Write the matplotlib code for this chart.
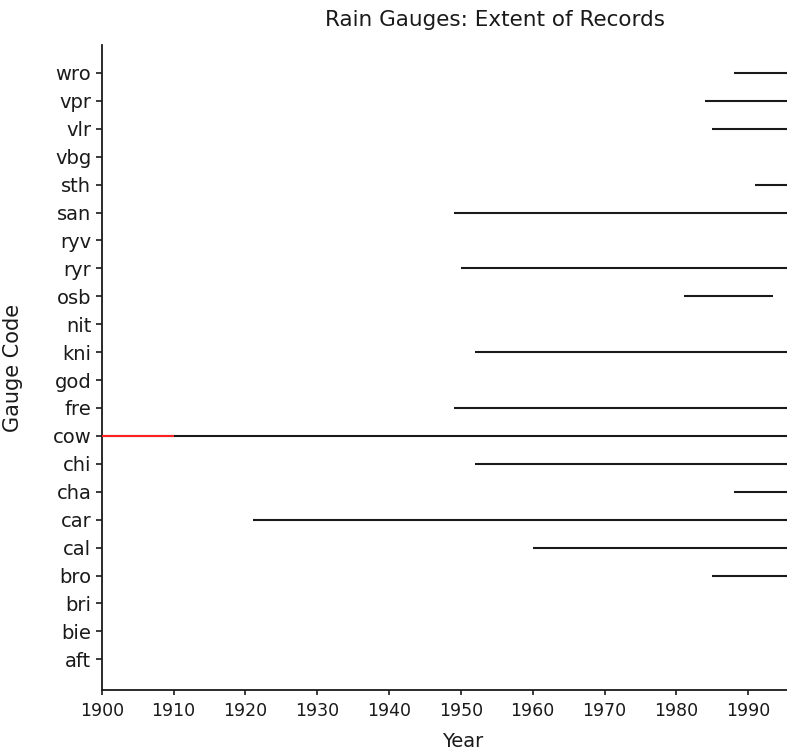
import matplotlib
matplotlib.use("Agg")
import matplotlib.pyplot as plt

# gauge codes, bottom -> top
gauges = ["aft", "bie", "bri", "bro", "cal", "car", "cha", "chi", "cow", "fre",
          "god", "kni", "nit", "osb", "ryr", "ryv", "san", "sth", "vbg", "vlr",
          "vpr", "wro"]

# record extents (start, end); gauges not listed have no record drawn
starts = {"bro": 1985, "cal": 1960, "car": 1921, "cha": 1988, "chi": 1952,
          "cow": 1900, "fre": 1949, "kni": 1952, "osb": 1981, "ryr": 1950,
          "san": 1949, "sth": 1991, "vlr": 1985, "vpr": 1984, "wro": 1988}
ends = {"bro": 1996, "cal": 1996, "car": 1996, "cha": 1996, "chi": 1996,
        "cow": 1996, "fre": 1996, "kni": 1996, "osb": 1993.5, "ryr": 1996,
        "san": 1996, "sth": 1996, "vlr": 1996, "vpr": 1996, "wro": 1996}
# highlighted early part of the cow record
red_gauge = "cow"
red_start, red_end = 1900, 1910

xticks = [1900, 1910, 1920, 1930, 1940, 1950, 1960, 1970, 1980, 1990]

plt.rcParams['font.family'] = ['DejaVu Sans']

fig = plt.figure(figsize=(7.87, 7.55), dpi=100)
ax = fig.add_axes([101.7 / 787, 1 - 690 / 755, 1 - 101.7 / 787, (690 - 45) / 755])

ypos = {g: i for i, g in enumerate(gauges)}
for g, s in starts.items():
    ax.hlines(ypos[g], s, ends[g], color="#1a1a1a", lw=1.5, zorder=2)
ax.hlines(ypos[red_gauge], red_start, red_end, color="#ff2020", lw=1.5, zorder=3)

ax.set_xlim(1900, 1995.4)
ax.set_ylim(-1.1, len(gauges))
ax.set_yticks(range(len(gauges)))
ax.set_yticklabels(gauges)
ax.set_xticks(xticks)
ax.set_xticklabels([str(t) for t in xticks])

for s in ["top", "right"]:
    ax.spines[s].set_visible(False)
for s in ["left", "bottom"]:
    ax.spines[s].set_linewidth(1.3)
    ax.spines[s].set_color("#1a1a1a")
ax.tick_params(axis="y", length=4.5, width=1.2, pad=3, labelsize=14, colors="#1a1a1a")
ax.tick_params(axis="x", length=3.5, width=1.2, pad=5, labelsize=12.5, colors="#1a1a1a")

ax.set_xlabel("Year", fontsize=14, color="#1a1a1a")
ax.xaxis.set_label_coords((463 - 101.7) / (787 - 101.7), -0.065)
ax.set_ylabel("Gauge Code", fontsize=15, color="#1a1a1a")
ax.yaxis.set_label_coords(-(101.7 - 23) / (787 - 101.7), 0.5)

fig.text(495 / 787, 1 - 20 / 755, "Rain Gauges: Extent of Records", ha="center",
         va="center", fontsize=15.5, color="#1a1a1a")

fig.savefig("out.png", dpi=100)
